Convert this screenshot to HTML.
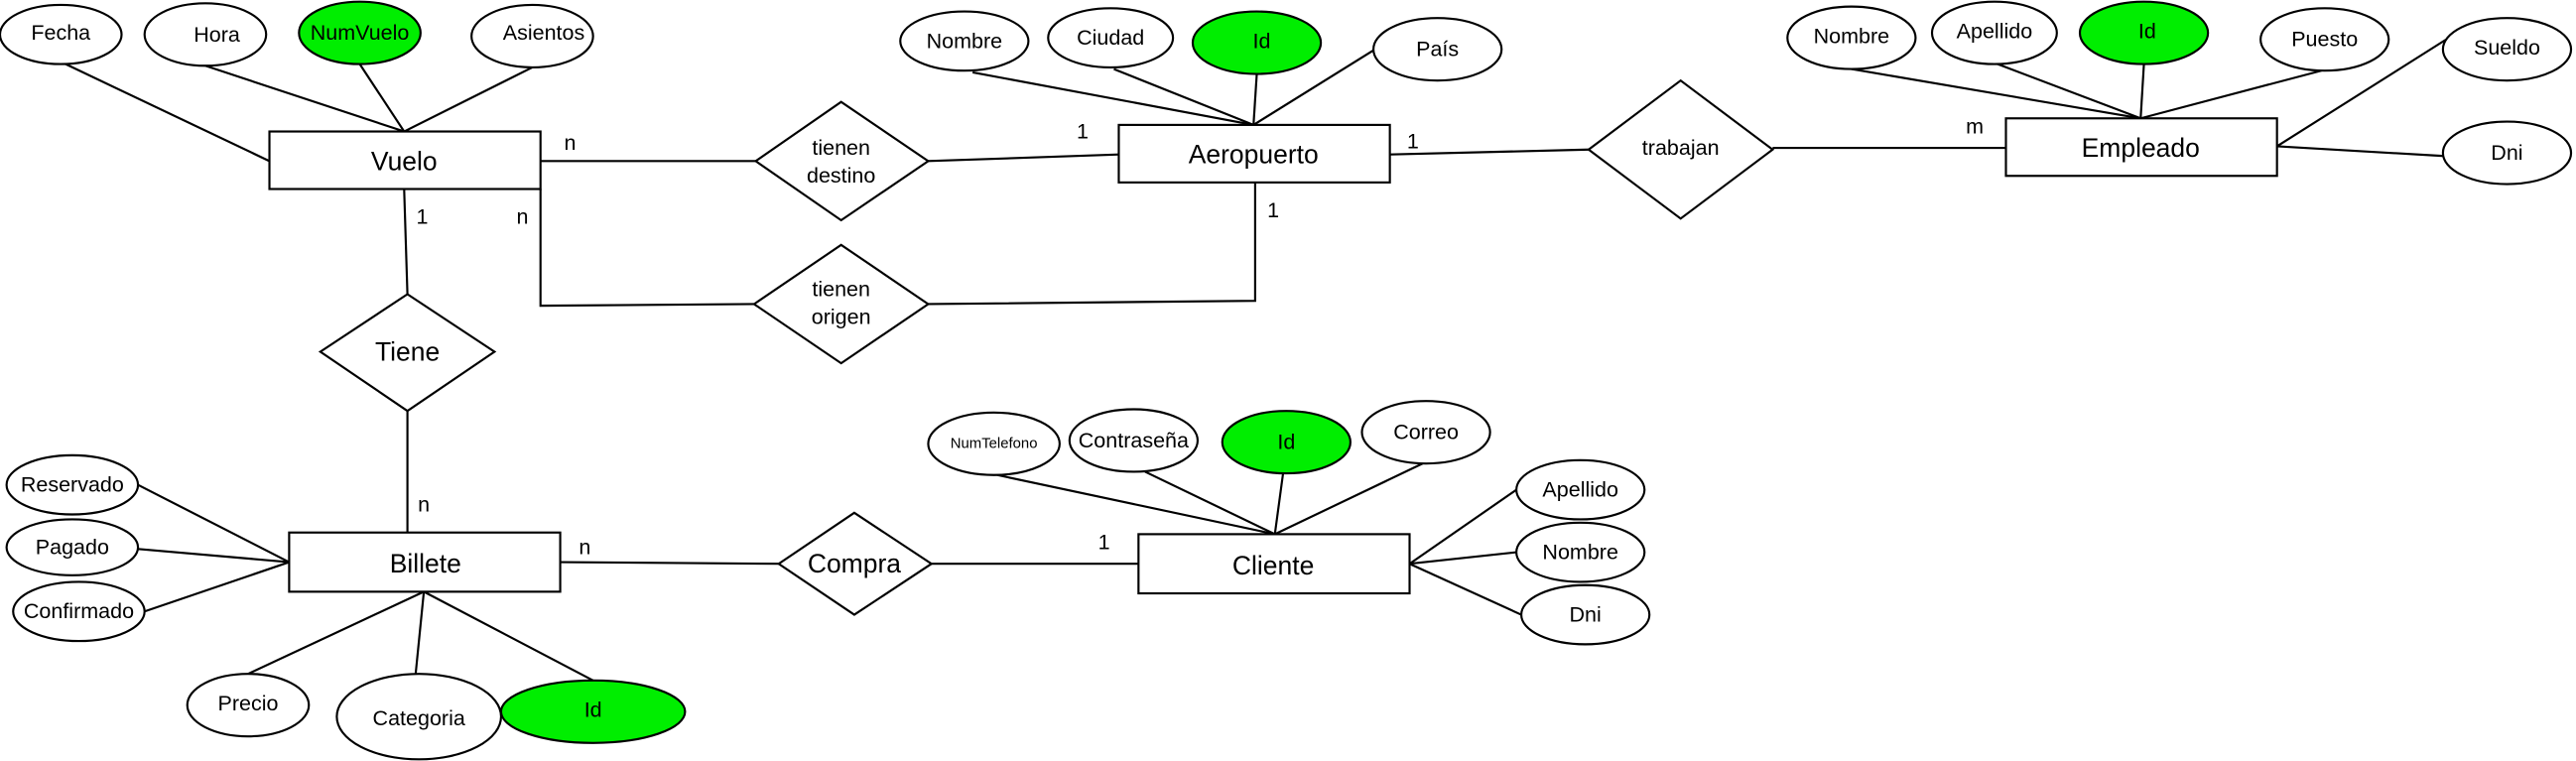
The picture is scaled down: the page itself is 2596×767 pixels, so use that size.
<!DOCTYPE html>
<html><head><meta charset="utf-8"><style>
html,body{margin:0;padding:0;background:#fff;}
svg{display:block;}
text{font-family:"Liberation Sans Narrow","Liberation Sans",sans-serif;fill:#000;text-anchor:middle;dominant-baseline:central;}
</style></head><body>
<svg width="2596" height="767" viewBox="0 0 1568 463" preserveAspectRatio="none" xmlns="http://www.w3.org/2000/svg">
<g stroke="#000" stroke-width="1.3" fill="none">
<!-- Vuelo lines -->
<line x1="40" y1="39" x2="164" y2="98"/>
<line x1="125" y1="40" x2="246" y2="80"/>
<line x1="219" y1="39" x2="246" y2="80"/>
<line x1="324" y1="41" x2="246" y2="80"/>
<line x1="329" y1="98" x2="460" y2="98"/>
<line x1="565" y1="98" x2="681" y2="94"/>
<polyline points="329,115 329,186 459,185"/>
<polyline points="565,185 764,183 764,111"/>
<line x1="592" y1="44" x2="763" y2="76"/>
<line x1="678" y1="42" x2="763" y2="76"/>
<line x1="765" y1="45" x2="763" y2="76"/>
<line x1="837" y1="30" x2="763" y2="76"/>
<line x1="846" y1="94" x2="967" y2="91"/>
<line x1="1079" y1="90" x2="1221" y2="90"/>
<line x1="1127" y1="42" x2="1303" y2="72"/>
<line x1="1216" y1="39" x2="1303" y2="72"/>
<line x1="1305" y1="39" x2="1303" y2="72"/>
<line x1="1413" y1="43" x2="1303" y2="72"/>
<line x1="1489" y1="24" x2="1386" y2="89"/>
<line x1="1386" y1="89" x2="1489" y2="95"/>
<line x1="246" y1="115" x2="248" y2="179"/>
<line x1="248" y1="250" x2="248" y2="324"/>
<line x1="84" y1="295" x2="176" y2="342"/>
<line x1="84" y1="334" x2="176" y2="342"/>
<line x1="88" y1="372" x2="176" y2="342"/>
<line x1="151" y1="410" x2="258" y2="360"/>
<line x1="253" y1="410" x2="258" y2="360"/>
<line x1="361" y1="414" x2="258" y2="360"/>
<line x1="341" y1="342" x2="474" y2="343"/>
<line x1="567" y1="343" x2="693" y2="343"/>
<line x1="607" y1="289" x2="776" y2="325"/>
<line x1="697" y1="287" x2="776" y2="325"/>
<line x1="781" y1="288" x2="776" y2="325"/>
<line x1="866" y1="282" x2="776" y2="325"/>
<line x1="858" y1="343" x2="923" y2="298"/>
<line x1="858" y1="343" x2="923" y2="336"/>
<line x1="858" y1="343" x2="926" y2="374"/>
</g>
<g stroke="#000" stroke-width="1.3" fill="#fff">
<rect x="164" y="80" width="165" height="35"/>
<rect x="681" y="76" width="165" height="35"/>
<rect x="1221" y="72" width="165" height="35"/>
<rect x="176" y="324" width="165" height="36"/>
<rect x="693" y="325" width="165" height="36"/>
<polygon points="460,98 512,62 565,98 512,134"/>
<polygon points="459,185 512,149 565,185 512,221"/>
<polygon points="967,91 1023,49 1079,91 1023,133"/>
<polygon points="195,214 248,179 301,214 248,250"/>
<polygon points="474,343 520,312 567,343 520,374"/>
<ellipse cx="37" cy="21" rx="37" ry="18"/>
<ellipse cx="125" cy="21" rx="37" ry="19"/>
<ellipse cx="219" cy="20" rx="37" ry="19" fill="#00ee00"/>
<ellipse cx="324" cy="22" rx="37" ry="19"/>
<ellipse cx="587" cy="25" rx="39" ry="18"/>
<ellipse cx="676" cy="23" rx="38" ry="18"/>
<ellipse cx="765" cy="26" rx="39" ry="19" fill="#00ee00"/>
<ellipse cx="875" cy="30" rx="39" ry="19"/>
<ellipse cx="1127" cy="23" rx="39" ry="19"/>
<ellipse cx="1214" cy="20" rx="38" ry="19"/>
<ellipse cx="1305" cy="20" rx="39" ry="19" fill="#00ee00"/>
<ellipse cx="1415" cy="24" rx="39" ry="19"/>
<ellipse cx="1526" cy="30" rx="39" ry="19"/>
<ellipse cx="1526" cy="93" rx="39" ry="19"/>
<ellipse cx="44" cy="295" rx="40" ry="18"/>
<ellipse cx="44" cy="333" rx="40" ry="17"/>
<ellipse cx="48" cy="372" rx="40" ry="18"/>
<ellipse cx="151" cy="429" rx="37" ry="19"/>
<ellipse cx="255" cy="436" rx="50" ry="26"/>
<ellipse cx="361" cy="433" rx="56" ry="19" fill="#00ee00"/>
<ellipse cx="605" cy="270" rx="40" ry="19"/>
<ellipse cx="690" cy="268" rx="39" ry="19"/>
<ellipse cx="783" cy="269" rx="39" ry="19" fill="#00ee00"/>
<ellipse cx="868" cy="263" rx="39" ry="19"/>
<ellipse cx="962" cy="298" rx="39" ry="18"/>
<ellipse cx="962" cy="336" rx="39" ry="18"/>
<ellipse cx="965" cy="374" rx="39" ry="18"/>
</g>
<g font-size="16">
<text x="246" y="98">Vuelo</text>
<text x="763" y="94">Aeropuerto</text>
<text x="1303" y="90">Empleado</text>
<text x="259" y="343">Billete</text>
<text x="775" y="344">Cliente</text>
<text x="248" y="214">Tiene</text>
<text x="520" y="343">Compra</text>
</g>
<g font-size="13">
<text x="512" y="90">tienen</text>
<text x="512" y="107">destino</text>
<text x="512" y="176">tienen</text>
<text x="512" y="193">origen</text>
<text x="1023" y="90">trabajan</text>
<text x="37" y="20">Fecha</text>
<text x="132" y="21">Hora</text>
<text x="219" y="20">NumVuelo</text>
<text x="331" y="20">Asientos</text>
<text x="587" y="25">Nombre</text>
<text x="676" y="23">Ciudad</text>
<text x="768" y="25">Id</text>
<text x="875" y="30">País</text>
<text x="1127" y="22">Nombre</text>
<text x="1214" y="19">Apellido</text>
<text x="1307" y="19">Id</text>
<text x="1415" y="24">Puesto</text>
<text x="1526" y="29">Sueldo</text>
<text x="1526" y="93">Dni</text>
<text x="44" y="295">Reservado</text>
<text x="44" y="333">Pagado</text>
<text x="48" y="372">Confirmado</text>
<text x="151" y="428">Precio</text>
<text x="255" y="437">Categoria</text>
<text x="361" y="432">Id</text>
<text x="605" y="270" font-size="9">NumTelefono</text>
<text x="690" y="268">Contraseña</text>
<text x="783" y="269">Id</text>
<text x="868" y="263">Correo</text>
<text x="962" y="298">Apellido</text>
<text x="962" y="336">Nombre</text>
<text x="965" y="374">Dni</text>
<text x="347" y="87">n</text>
<text x="659" y="80">1</text>
<text x="318" y="132">n</text>
<text x="775" y="128">1</text>
<text x="860" y="86">1</text>
<text x="1202" y="77">m</text>
<text x="257" y="132">1</text>
<text x="258" y="307">n</text>
<text x="356" y="333">n</text>
<text x="672" y="330">1</text>
</g>
</svg>
</body></html>
